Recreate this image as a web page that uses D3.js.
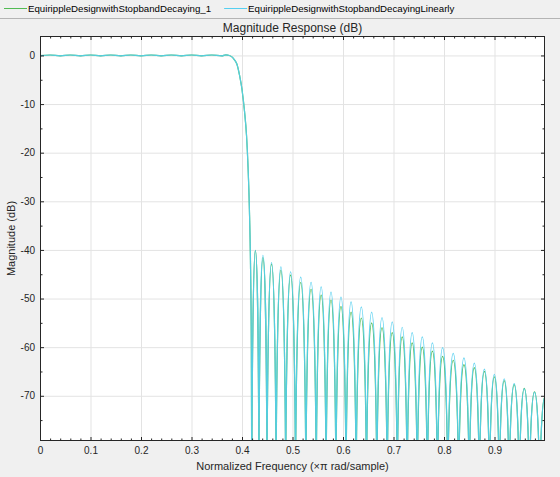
<!DOCTYPE html>
<html lang="en">
<head>
<meta charset="UTF-8">
<title>Magnitude Response (dB)</title>
<style>
  body { margin: 0; background: #f0f0f0; }
  svg { display: block; font-family: "Liberation Sans", Arial, sans-serif; }
  .tick text { font-size: 10px; fill: #262626; }
  .ticks line { stroke: #262626; }
  .grid line { stroke: #e3e3e3; }
</style>
<script src="https://d3js.org/d3.v7.min.js"></script>
</head>
<body>
<div id="chart"></div>
<script>
// series names (legend order)
const seriesNames = ["EquirippleDesignwithStopbandDecaying_1", "EquirippleDesignwithStopbandDecayingLinearly"];
const seriesColors = ["#52bb54", "#55cff0"];

// passband ripple + transition band, shared by both designs
const edgeFreq = [0, 0.02, 0.04, 0.06, 0.08, 0.10, 0.12, 0.14, 0.16, 0.18, 0.20, 0.22, 0.24, 0.26, 0.28,
                  0.30, 0.32, 0.34, 0.36, 0.368, 0.375, 0.38, 0.385, 0.39, 0.395, 0.40, 0.405, 0.409,
                  0.412, 0.415, 0.417, 0.4185, 0.4195];
const edgeDb = [-0.04, 0.09, -0.09, 0.09, -0.09, 0.09, -0.09, 0.09, -0.09, 0.09, -0.09, 0.09, -0.09, 0.09, -0.09,
                0.09, -0.09, 0.09, -0.09, 0.12, 0.0, -0.3, -0.9, -1.8, -4.0, -7.0, -11.5, -16.5,
                -23, -33, -44, -60, -95];

// stopband: frequencies of the nulls between lobes
const stopNulls = [0.4195, 0.4335, 0.4495, 0.4675, 0.4865, 0.506, 0.5265, 0.547, 0.5665, 0.586, 0.606,
                   0.626, 0.6465, 0.667, 0.6875, 0.7075, 0.727, 0.747, 0.767, 0.787, 0.8075, 0.829,
                   0.850, 0.870, 0.890, 0.9095, 0.929, 0.949, 0.969, 0.9895, 1.0105];
// stopband lobe peaks (dB)
const decaying1Peaks = [-40.1, -41.6, -42.8, -44.2, -45.2, -46.7, -48.0, -49.3, -50.3, -51.6,
                        -52.8, -54.0, -55.0, -56.0, -57.0, -57.9, -59.0, -60.0, -60.8, -61.9,
                        -62.6, -63.6, -64.2, -65.0, -66.0, -66.9, -67.7, -68.4, -69.2, -70.1];
const linearPeaks = [-40.1, -41.1, -42.5, -43.5, -44.5, -45.6, -46.6, -47.6, -48.7, -49.7,
                     -50.7, -51.7, -52.8, -53.9, -54.8, -55.9, -56.9, -57.9, -59.1, -60.1,
                     -61.2, -62.2, -63.3, -64.5, -65.5, -66.5, -67.5, -68.5, -69.3, -70.2];

const xTicks = [0, 0.1, 0.2, 0.3, 0.4, 0.5, 0.6, 0.7, 0.8, 0.9];
const xTickLabels = ["0", "0.1", "0.2", "0.3", "0.4", "0.5", "0.6", "0.7", "0.8", "0.9"];
const yTicks = [0, -10, -20, -30, -40, -50, -60, -70];
const yTickLabels = ["0", "-10", "-20", "-30", "-40", "-50", "-60", "-70"];

const width = 560, height = 477;
const plotLeft = 40, plotRight = 545, plotTop = 36, plotBottom = 441;
const lobeBase = -95;

const x = d3.scaleLinear().domain([0, 1]).range([plotLeft, plotRight]);
const y = d3.scaleLinear().domain([-79.3, 4.0]).range([plotBottom, plotTop]);

const svg = d3.select("#chart").append("svg")
    .attr("width", width)
    .attr("height", height);

svg.append("rect").attr("width", width).attr("height", height).attr("fill", "#f0f0f0");

// legend strip
svg.append("line")
    .attr("x1", 0).attr("x2", width).attr("y1", 18.5).attr("y2", 18.5)
    .attr("stroke", "#b4b4b4");

const legend = svg.append("g");
let lx = 4;
seriesNames.forEach((name, i) => {
    legend.append("line")
        .attr("x1", lx).attr("x2", lx + 23).attr("y1", 8.5).attr("y2", 8.5)
        .attr("stroke", seriesColors[i]).attr("stroke-width", 1);
    const t = legend.append("text")
        .attr("x", lx + 24).attr("y", 12)
        .attr("font-size", 9.7).attr("fill", "#000")
        .text(name);
    lx += 24 + t.node().getComputedTextLength() + 13;
});

// title
svg.append("text")
    .attr("x", (plotLeft + plotRight) / 2).attr("y", 32)
    .attr("text-anchor", "middle")
    .attr("font-size", 12).attr("fill", "#262626")
    .text("Magnitude Response (dB)");

// axes background
svg.append("rect")
    .attr("x", plotLeft).attr("y", plotTop)
    .attr("width", plotRight - plotLeft).attr("height", plotBottom - plotTop)
    .attr("fill", "#fff");

// grid
svg.append("g").attr("class", "grid")
    .attr("transform", `translate(0,${plotBottom})`)
    .call(d3.axisBottom(x).tickValues(xTicks.slice(1)).tickSize(-(plotBottom - plotTop)).tickFormat(""))
    .call(g => g.select(".domain").remove());
svg.append("g").attr("class", "grid")
    .attr("transform", `translate(${plotLeft},0)`)
    .call(d3.axisLeft(y).tickValues(yTicks).tickSize(-(plotRight - plotLeft)).tickFormat(""))
    .call(g => g.select(".domain").remove());

// clip for response lines
svg.append("defs").append("clipPath").attr("id", "plotClip")
  .append("rect")
    .attr("x", plotLeft).attr("y", plotTop)
    .attr("width", plotRight - plotLeft).attr("height", plotBottom - plotTop);

const bandLine = d3.line()
    .x(d => x(d[0]))
    .y(d => y(d[1]))
    .curve(d3.curveMonotoneX);

// each stopband lobe as a half ellipse between two nulls
function lobes(nulls, peaks) {
    const yb = y(lobeBase);
    let d = "";
    peaks.forEach((p, i) => {
        const x0 = x(nulls[i]), x1 = x(nulls[i + 1]);
        d += `M${x0},${yb}A${(x1 - x0) / 2},${yb - y(p)} 0 0 1 ${x1},${yb}`;
    });
    return d;
}

const edgePts = d3.zip(edgeFreq, edgeDb);
const lines = svg.append("g").attr("clip-path", "url(#plotClip)");
[decaying1Peaks, linearPeaks].forEach((peaks, i) => {
    lines.append("path")
        .attr("d", bandLine(edgePts) + lobes(stopNulls, peaks))
        .attr("fill", "none")
        .attr("stroke", seriesColors[i])
        .attr("stroke-width", 1.2)
        .attr("stroke-opacity", i === 1 ? 0.9 : 1);
});

// box
svg.append("rect")
    .attr("x", plotLeft + 0.5).attr("y", plotTop + 0.5)
    .attr("width", plotRight - plotLeft - 1).attr("height", plotBottom - plotTop - 1)
    .attr("fill", "none").attr("stroke", "#262626");

// ticks (inward, on all four sides)
const xMinor = d3.range(0.02, 1, 0.02).filter(v => Math.abs(v * 10 - Math.round(v * 10)) > 1e-6);
const yMinor = d3.range(-75, 4, 5).filter(v => v % 10 !== 0);

function tickGroup(axis, tx, ty) {
    svg.append("g").attr("class", "ticks")
        .attr("transform", `translate(${tx},${ty})`)
        .call(axis)
        .call(g => g.select(".domain").remove());
}

tickGroup(d3.axisBottom(x).tickValues(xTicks).tickSize(-4).tickPadding(6)
    .tickFormat((d, i) => xTickLabels[i]), 0, plotBottom);
tickGroup(d3.axisTop(x).tickValues(xTicks).tickSize(-4).tickFormat(""), 0, plotTop);
tickGroup(d3.axisBottom(x).tickValues(xMinor).tickSize(-2.5).tickFormat(""), 0, plotBottom);
tickGroup(d3.axisTop(x).tickValues(xMinor).tickSize(-2.5).tickFormat(""), 0, plotTop);

tickGroup(d3.axisLeft(y).tickValues(yTicks).tickSize(-4).tickPadding(5)
    .tickFormat((d, i) => yTickLabels[i]), plotLeft, 0);
tickGroup(d3.axisRight(y).tickValues(yTicks).tickSize(-4).tickFormat(""), plotRight, 0);
tickGroup(d3.axisLeft(y).tickValues(yMinor).tickSize(-2.5).tickFormat(""), plotLeft, 0);
tickGroup(d3.axisRight(y).tickValues(yMinor).tickSize(-2.5).tickFormat(""), plotRight, 0);

// axis labels
svg.append("text")
    .attr("x", (plotLeft + plotRight) / 2).attr("y", 470)
    .attr("text-anchor", "middle")
    .attr("font-size", 11).attr("fill", "#262626")
    .text("Normalized Frequency (\u00d7\u03c0 rad/sample)");

svg.append("text")
    .attr("transform", `translate(15,${(plotTop + plotBottom) / 2}) rotate(-90)`)
    .attr("text-anchor", "middle")
    .attr("font-size", 11).attr("fill", "#262626")
    .text("Magnitude (dB)");
</script>
</body>
</html>
